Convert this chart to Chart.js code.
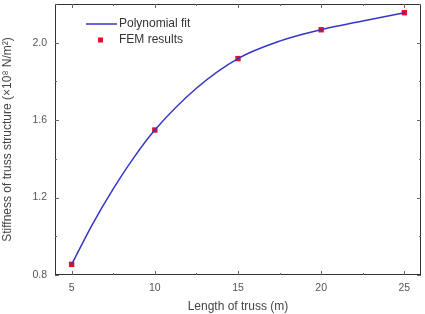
<!DOCTYPE html>
<html>
<head>
<meta charset="utf-8">
<script src="https://cdn.jsdelivr.net/npm/chart.js@4"></script>
<style>
  html, body { margin: 0; padding: 0; background: #fff; }
  #wrap { width: 425px; height: 314px; }
</style>
</head>
<body>
<div id="wrap"><canvas id="stiffness-chart" width="425" height="314"></canvas></div>
<script>
// data
const trussLength = [5, 10, 15, 20, 25];
const femStiffness = [0.855, 1.549, 1.918, 2.067, 2.155];
// points
const fitLength = [5, 6.25, 7.5, 8.75, 10, 12.5, 15, 17.5, 20, 22.5, 25];
const fitStiffness = [0.855, 1.062, 1.245, 1.408, 1.549, 1.765, 1.918, 2.008, 2.067, 2.112, 2.155];
const xTickValues = [5, 10, 15, 20, 25];
const xMinorTicks = [7.5, 12.5, 17.5, 22.5];
const yTickValues = [0.8, 1.2, 1.6, 2.0];
const yMinorTicks = [1.0, 1.4, 1.8, 2.2];

const FONT = '"Liberation Sans", Arial, sans-serif';

// frame, inward ticks and legend
const framePlugin = {
  id: 'frame',
  afterDatasetsDraw(chart) {
    const { ctx, chartArea: a, scales } = chart;
    ctx.save();
    ctx.strokeStyle = '#333';
    ctx.lineWidth = 1;
    ctx.strokeRect(a.left + 0.5, a.top + 0.5, a.right - a.left - 1, a.bottom - a.top - 1);

    ctx.strokeStyle = '#666';
    const tickX = (v, len) => {
      const px = Math.round(scales.x.getPixelForValue(v)) + 0.5;
      ctx.beginPath();
      ctx.moveTo(px, a.bottom); ctx.lineTo(px, a.bottom - len);
      ctx.moveTo(px, a.top); ctx.lineTo(px, a.top + len);
      ctx.stroke();
    };
    const tickY = (v, len) => {
      const py = Math.round(scales.y.getPixelForValue(v)) + 0.5;
      ctx.beginPath();
      ctx.moveTo(a.left, py); ctx.lineTo(a.left + len, py);
      ctx.moveTo(a.right, py); ctx.lineTo(a.right - len, py);
      ctx.stroke();
    };
    xTickValues.forEach((v) => tickX(v, 4));
    xMinorTicks.forEach((v) => tickX(v, 2));
    yTickValues.forEach((v) => tickY(v, 4));
    yMinorTicks.forEach((v) => tickY(v, 2));

    // legend
    ctx.strokeStyle = '#3535c8';
    ctx.lineWidth = 1.5;
    ctx.beginPath();
    ctx.moveTo(86, 24); ctx.lineTo(117, 24);
    ctx.stroke();
    ctx.fillStyle = '#e0102a';
    ctx.fillRect(98, 37.5, 5, 5);
    ctx.fillStyle = '#333';
    ctx.font = '12px ' + FONT;
    ctx.textBaseline = 'middle';
    ctx.fillText('Polynomial fit', 119, 24);
    ctx.fillText('FEM results', 119, 40);
    ctx.restore();
  },
};

new Chart(document.querySelector('#stiffness-chart'), {
  type: 'scatter',
  data: {
    datasets: [
      {
        label: 'Polynomial fit',
        data: fitLength.map((x, i) => ({ x, y: fitStiffness[i] })),
        showLine: true,
        borderColor: '#3535c8',
        borderWidth: 1.5,
        pointRadius: 0,
        cubicInterpolationMode: 'monotone',
        order: 1,
      },
      {
        label: 'FEM results',
        data: trussLength.map((x, i) => ({ x, y: femStiffness[i] })),
        pointStyle: 'rect',
        pointRadius: 3.8,
        backgroundColor: '#e0102a',
        borderColor: '#b0102a',
        borderWidth: 0,
        order: 2,
      },
    ],
  },
  options: {
    responsive: false,
    animation: false,
    layout: { padding: { top: 0, right: 2, left: 0, bottom: 0 } },
    plugins: { legend: { display: false }, tooltip: { enabled: false } },
    scales: {
      x: {
        type: 'linear',
        min: 4,
        max: 26,
        afterBuildTicks: (s) => { s.ticks = xTickValues.map((v) => ({ value: v })); },
        afterFit: (s) => { s.height = 39; s.paddingLeft = 0; s.paddingRight = 0; },
        grid: { display: false, drawTicks: false },
        border: { display: false },
        ticks: { color: '#555', font: { family: FONT, size: 10.5 }, padding: 7, maxRotation: 0 },
        title: {
          display: true,
          text: 'Length of truss (m)',
          color: '#444',
          font: { family: FONT, size: 12 },
          padding: { top: 4, bottom: 0 },
        },
      },
      y: {
        min: 0.8,
        max: 2.2,
        afterBuildTicks: (s) => { s.ticks = yTickValues.map((v) => ({ value: v })); },
        afterFit: (s) => { s.width = 55; s.paddingTop = 0; s.paddingBottom = 0; },
        grid: { display: false, drawTicks: false },
        border: { display: false },
        ticks: {
          color: '#555',
          font: { family: FONT, size: 10.5 },
          padding: 8,
          callback: (v) => v.toFixed(1),
        },
        title: {
          display: true,
          text: 'Stiffness of truss structure (×10⁸ N/m²)',
          color: '#444',
          font: { family: FONT, size: 12 },
          padding: { top: 0, bottom: 4 },
        },
      },
    },
  },
  plugins: [framePlugin],
});
</script>
</body>
</html>
